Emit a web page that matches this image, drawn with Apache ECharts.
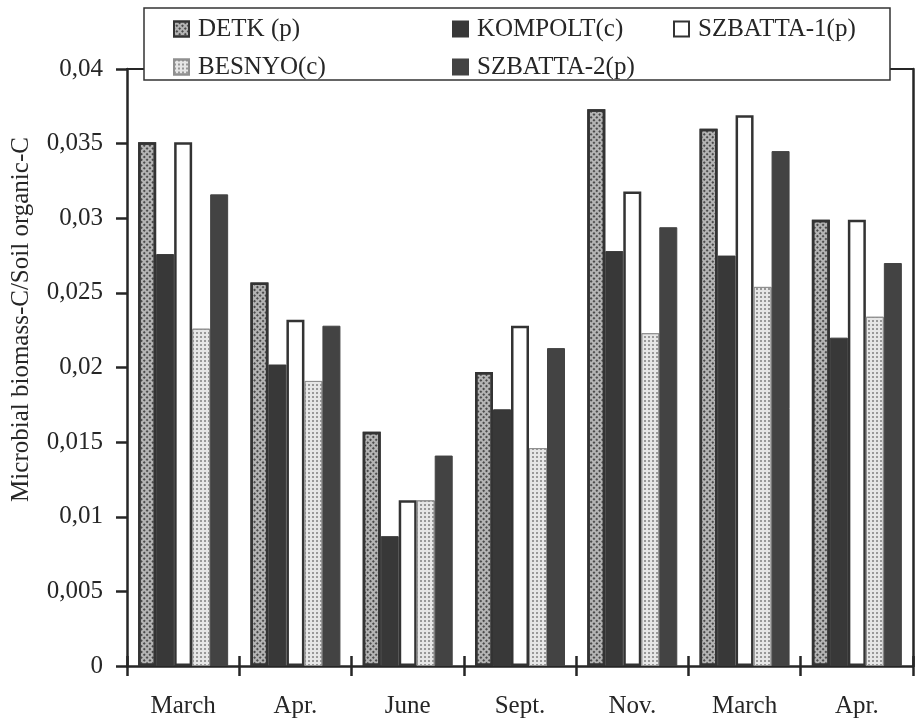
<!DOCTYPE html>
<html>
<head>
<meta charset="utf-8">
<script src="https://cdn.jsdelivr.net/npm/echarts@6/dist/echarts.min.js"></script>
<style>html,body{margin:0;padding:0;background:#fff;}#c{width:916px;height:723px;}</style>
</head>
<body>
<div id="c"></div>
<script>
// ---- data ----
var categories = ['March', 'Apr.', 'June', 'Sept.', 'Nov.', 'March', 'Apr.'];
var seriesNames = ['DETK (p)', 'KOMPOLT(c)', 'SZBATTA-1(p)', 'BESNYO(c)', 'SZBATTA-2(p)'];
var detk      = [0.0351, 0.0257, 0.0157, 0.0197, 0.0373, 0.0360, 0.0299];
var kompolt   = [0.0276, 0.0202, 0.0087, 0.0172, 0.0278, 0.0275, 0.0220];
var szbatta1  = [0.0351, 0.0232, 0.0111, 0.0228, 0.0318, 0.0369, 0.0299];
var besnyo    = [0.0226, 0.0191, 0.0111, 0.0146, 0.0223, 0.0254, 0.0234];
var szbatta2  = [0.0316, 0.0228, 0.0141, 0.0213, 0.0294, 0.0345, 0.0270];
var yTicks = { min: 0, max: 0.04, interval: 0.005 };

// ---- styles ----
var FONT = 'Liberation Serif';
var INK = '#262626';
var styles = [
  { color: '#b4b4b4', borderColor: '#333333', borderWidth: 2.5,
    decal: { symbol: 'rect', symbolSize: 1, color: '#4a4a4a', dashArrayX: [2, 2], dashArrayY: [2, 2], rotation: Math.PI / 4 } },
  { color: '#383838', borderColor: '#383838', borderWidth: 1 },
  { color: '#ffffff', borderColor: '#333333', borderWidth: 2.5 },
  { color: '#e6e6e6', borderColor: '#909090', borderWidth: 1,
    decal: { symbol: 'circle', symbolSize: 1, color: '#7e7e7e', dashArrayX: [2, 2], dashArrayY: [2, 2], rotation: 0 } },
  { color: '#434343', borderColor: '#434343', borderWidth: 1 }
];
var values = [detk, kompolt, szbatta1, besnyo, szbatta2];

var chart = echarts.init(document.getElementById('c'), null, { renderer: 'canvas' });

var series = seriesNames.map(function (n, i) {
  return {
    name: n, type: 'bar', data: values[i],
    xAxisIndex: 0, yAxisIndex: 0,
    barWidth: 18, barGap: '0%',
    itemStyle: styles[i],
    emphasis: { disabled: true },
    animation: false
  };
});

function legendAt(names, left) {
  return {
    data: names, orient: 'vertical', left: left, top: 15, padding: 0,
    itemWidth: 15, itemHeight: 15, itemGap: 10, icon: 'rect', z: 6,
    selectedMode: false,
    textStyle: { fontFamily: FONT, fontSize: 25, color: INK, lineHeight: 28, padding: [0, 0, 0, 4] }
  };
}

chart.setOption({
  backgroundColor: '#ffffff',
  animation: false,
  textStyle: { fontFamily: FONT },
  graphic: [{
    type: 'rect', z: 4,
    shape: { x: 144, y: 8, width: 746, height: 72 },
    style: { fill: '#ffffff', stroke: '#333333', lineWidth: 1.5 }
  }],
  legend: [
    legendAt([seriesNames[0], seriesNames[3]], 173),
    legendAt([seriesNames[1], seriesNames[4]], 452),
    legendAt([seriesNames[2]], 673)
  ],
  grid: { left: 127, right: 3, top: 69, bottom: 57, containLabel: false },
  xAxis: [
    { type: 'category', data: categories, position: 'bottom',
      axisLine: { show: true, lineStyle: { color: INK, width: 2.5 } },
      axisTick: { show: true, length: 10, lineStyle: { color: INK, width: 2.5 } },
      axisLabel: { fontFamily: FONT, fontSize: 25, color: INK, margin: 28 },
      splitLine: { show: false } },
    { type: 'category', data: categories, position: 'bottom',
      axisLine: { show: false },
      axisTick: { show: true, inside: true, length: 10, lineStyle: { color: INK, width: 2.5 } },
      axisLabel: { show: false }, splitLine: { show: false } },
    { type: 'category', data: categories, position: 'top',
      axisLine: { show: true, lineStyle: { color: INK, width: 2 } },
      axisTick: { show: false }, axisLabel: { show: false }, splitLine: { show: false } }
  ],
  yAxis: [
    { type: 'value', min: yTicks.min, max: yTicks.max, interval: yTicks.interval, position: 'left',
      name: 'Microbial biomass-C/Soil organic-C', nameLocation: 'middle', nameGap: 93,
      nameTextStyle: { fontFamily: FONT, fontSize: 25, color: INK, padding: [0, 0, 0, 96] },
      axisLine: { show: true, lineStyle: { color: INK, width: 2.5 } },
      axisTick: { show: true, length: 11, lineStyle: { color: INK, width: 2.5 } },
      axisLabel: { fontFamily: FONT, fontSize: 25, color: INK, margin: 24,
        formatter: function (v) { return String(+v.toFixed(3)).replace('.', ','); } },
      splitLine: { show: false } },
    { type: 'value', min: yTicks.min, max: yTicks.max, interval: yTicks.interval, position: 'right',
      axisLine: { show: true, lineStyle: { color: INK, width: 2.5 } },
      axisTick: { show: false }, axisLabel: { show: false }, splitLine: { show: false } }
  ],
  series: series
});
</script>
</body>
</html>
